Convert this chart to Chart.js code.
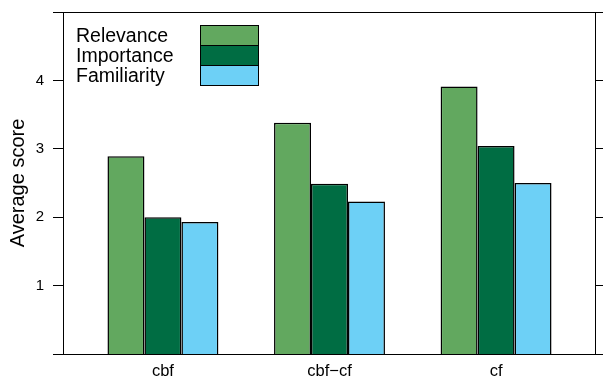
<!DOCTYPE html>
<html>
<head>
<meta charset="utf-8">
<script src="https://cdn.jsdelivr.net/npm/chart.js@4/dist/chart.umd.min.js"></script>
<style>
  html, body { margin: 0; padding: 0; background: #fff; }
  #wrap { width: 603px; height: 378px; }
</style>
</head>
<body>
<div id="wrap"><canvas id="c" width="603" height="378"></canvas></div>
<script>
// Recommender variants and their mean ratings per question
const categories = ['cbf', 'cbf\u2212cf', 'cf'];
const relevance = [2.89, 3.38, 3.91];
const importance = [2.00, 2.49, 3.04];
const familiarity = [1.93, 2.23, 2.50];
const seriesNames = ['Relevance', 'Importance', 'Familiarity'];
const seriesColors = ['#62a85f', '#006d43', '#6dd0f6'];
const yTicks = [1, 2, 3, 4];
const yLabel = 'Average score';

const FONT = '"Liberation Sans", Arial, Helvetica, sans-serif';

const asPoints = vals => vals.map((v, i) => ({ x: i + 1, y: v }));

const datasets = [relevance, importance, familiarity].map((vals, k) => ({
  label: seriesNames[k],
  data: asPoints(vals),
  backgroundColor: seriesColors[k],
  borderColor: '#000',
  borderWidth: 1.5,
  borderSkipped: 'bottom',
  categoryPercentage: 0.666,
  barPercentage: 1
}));

const setTicks = vals => scale => { scale.ticks = vals.map(v => ({ value: v })); };
const fitWidth = w => s => { s.width = w; s.paddingTop = 0; s.paddingBottom = 0; };

// Frame lines and the stacked legend (labels left, swatches right)
const framePlugin = {
  id: 'frame',
  afterDraw(chart) {
    const { ctx, chartArea: a } = chart;
    ctx.save();
    ctx.strokeStyle = '#000';
    ctx.lineWidth = 1;
    const L = Math.round(a.left) + 0.5, R = Math.round(a.right) - 0.5;
    const T = Math.round(a.top) + 0.5, B = Math.round(a.bottom) + 0.5;
    ctx.beginPath();
    ctx.moveTo(53, T); ctx.lineTo(603, T);
    ctx.moveTo(53, B); ctx.lineTo(603, B);
    ctx.moveTo(L, T); ctx.lineTo(L, B);
    ctx.moveTo(R, T); ctx.lineTo(R, B);
    ctx.stroke();

    // legend
    const rowH = 20, sx = 200.5, sw = 58, top = 25.5;
    ctx.font = '19.5px ' + FONT;
    ctx.textBaseline = 'middle';
    ctx.textAlign = 'left';
    chart.data.datasets.forEach((ds, i) => {
      const y = top + i * rowH;
      ctx.fillStyle = ds.backgroundColor;
      ctx.fillRect(sx, y, sw, rowH);
      ctx.strokeRect(sx, y, sw, rowH);
      ctx.fillStyle = '#000';
      ctx.fillText(ds.label, 76, y + rowH / 2 + 1);
    });
    ctx.restore();
  }
};

new Chart(document.getElementById('c'), {
  type: 'bar',
  data: { datasets },
  options: {
    responsive: false,
    animation: false,
    devicePixelRatio: 1,
    layout: { padding: { top: 12, right: 0, left: 0, bottom: 0 } },
    plugins: { legend: { display: false }, tooltip: { enabled: false } },
    scales: {
      x: {
        type: 'linear',
        offset: false,
        min: 0.4,
        max: 3.6,
        afterBuildTicks: setTicks([1, 2, 3]),
        afterFit: s => { s.height = 24; s.paddingLeft = 0; s.paddingRight = 0; },
        grid: { display: false, offset: false },
        border: { display: false },
        ticks: {
          color: '#000',
          padding: 0,
          font: { family: FONT, size: 16.5 },
          maxRotation: 0,
          callback: v => categories[v - 1]
        }
      },
      y: {
        position: 'left',
        min: 0,
        max: 5,
        afterBuildTicks: setTicks(yTicks),
        afterFit: fitWidth(63),
        grid: { drawOnChartArea: false, color: '#000', tickLength: 10, tickWidth: 1 },
        border: { display: false },
        ticks: { color: '#000', padding: 9, font: { family: FONT, size: 15 } },
        title: { display: true, text: yLabel, color: '#000', padding: { top: 6, bottom: 0 }, font: { family: FONT, size: 20 } }
      },
      y2: {
        position: 'right',
        min: 0,
        max: 5,
        afterBuildTicks: setTicks(yTicks),
        afterFit: fitWidth(7),
        grid: { drawOnChartArea: false, color: '#000', tickLength: 7, tickWidth: 1 },
        border: { display: false },
        ticks: { display: false }
      }
    }
  },
  plugins: [framePlugin]
});
</script>
</body>
</html>
